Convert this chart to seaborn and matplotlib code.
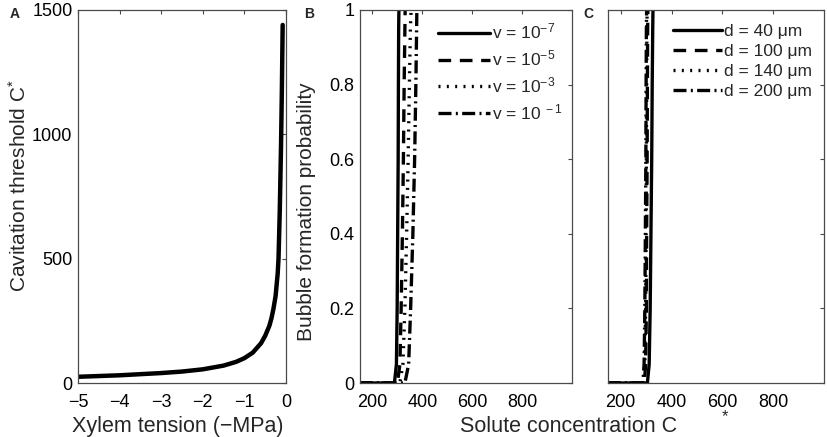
import matplotlib
matplotlib.use("Agg")
import matplotlib.pyplot as plt
import numpy as np
import pandas as pd
import seaborn as sns

# ---------------- data ----------------
tension = [-5, -4, -3, -2.5, -2, -1.5, -1.2, -1.0, -0.8, -0.6, -0.5, -0.4,
           -0.35, -0.3, -0.25, -0.2, -0.18, -0.15, -0.12, -0.1, -0.08]
cstar = [25, 31, 40, 46, 55, 70, 85, 100, 122, 160, 190, 230,
         260, 300, 350, 440, 500, 690, 950, 1170, 1440]

prob_levels = [0, 0, 0.05, 0.2, 0.4, 0.6, 0.8, 0.95, 1.0]

# panel B: diffusivity series
b_labels = ["v = 10$^{-7}$", "v = 10$^{-5}$", "v = 10$^{-3}$", "v = 10$^{\\ -1}$"]
b_v7 = [150, 288, 296, 299, 301, 303, 304, 305, 306]
b_v5 = [150, 300, 310, 315, 320, 324, 327, 330, 331]
b_v3 = [150, 310, 322, 330, 337, 343, 348, 352, 355]
b_v1 = [150, 330, 345, 353, 362, 369, 374, 377, 378]

# panel C: diameter series
c_labels = ["d = 40 μm", "d = 100 μm", "d = 140 μm", "d = 200 μm"]
c_d40 = [150, 305, 312, 316, 319, 322, 324, 326, 327]
c_d100 = [150, 293, 298, 301, 302, 304, 305, 306, 307]
c_d140 = [150, 290, 295, 298, 300, 301, 302, 303, 304]
c_d200 = [150, 287, 292, 295, 297, 299, 300, 301, 302]

a_xticks = [-5, -4, -3, -2, -1, 0]
a_yticks = [0, 500, 1000, 1500]
bc_xticks = [200, 400, 600, 800]
bc_yticks = [0, 0.2, 0.4, 0.6, 0.8, 1.0]
bc_yticklabels = ["0", "0.2", "0.4", "0.6", "0.8", "1"]

# ---------------- style ----------------
sns.set_theme(style="white")
plt.rcParams["font.family"] = ["Liberation Sans", "DejaVu Sans"]
plt.rcParams["mathtext.fontset"] = "custom"
plt.rcParams["mathtext.rm"] = "Liberation Sans"
plt.rcParams["mathtext.it"] = "Liberation Sans:italic"
plt.rcParams["mathtext.bf"] = "Liberation Sans:bold"
plt.rcParams["axes.unicode_minus"] = True

styles = ["-", (0, (3.8, 2.6)), (0, (0.6, 1.9)), (0, (3.9, 1.3, 0.6, 1.3))]
spine_col = "#4a4a4a"

fig = plt.figure(figsize=(8.27, 4.37), dpi=100)
W, H = 827, 437
axA = fig.add_axes([78 / W, 54 / H, 208 / W, 373 / H])
axB = fig.add_axes([360 / W, 54 / H, 212 / W, 373 / H])
axC = fig.add_axes([608 / W, 54 / H, 216 / W, 373 / H])


def style_axes(ax):
    for s in ax.spines.values():
        s.set_visible(True)
        s.set_color(spine_col)
        s.set_linewidth(0.9)
    ax.tick_params(axis="both", direction="in", top=True, right=True,
                   length=3, width=0.8, color=spine_col, labelsize=13,
                   labelcolor="black")
    ax.tick_params(axis="x", pad=8)
    ax.tick_params(axis="y", pad=4)
    ax.grid(False)


# ---------------- panel A ----------------
sns.lineplot(x=tension, y=cstar, ax=axA, color="black", lw=3.2,
             sort=False, estimator=None)
axA.set_xlim(-5, 0)
axA.set_ylim(0, 1500)
axA.set_xticks(a_xticks)
axA.set_yticks(a_yticks)
style_axes(axA)
axA.set_xlabel("Xylem tension (−MPa)", fontsize=15.5)
axA.xaxis.label.set_va("baseline")
axA.xaxis.set_label_coords(0.48, -(432 - 383) / 373)
axA.set_ylabel("Cavitation threshold C$^{*}$", fontsize=15)
axA.yaxis.set_label_coords((29.5 - 78) / 208, 0.53)

# ---------------- panel B ----------------
for xs, lab, ls in zip([b_v7, b_v5, b_v3, b_v1], b_labels, styles):
    sns.lineplot(x=xs, y=prob_levels, ax=axB, color="black", lw=2.4,
                 sort=False, estimator=None, label=lab, linestyle=ls)
axB.set_xlim(150, 1000)
axB.set_ylim(0, 1)
axB.set_xticks(bc_xticks)
axB.set_yticks(bc_yticks)
axB.set_yticklabels(bc_yticklabels)
style_axes(axB)
axB.set_xlabel("")
axB.set_ylabel("Bubble formation probability", fontsize=15)
axB.yaxis.set_label_coords((315.5 - 360) / 212, 0.46)
axB.legend(loc="upper left", bbox_to_anchor=((438 - 360) / 212, 0.968),
           frameon=False, fontsize=12.5, handlelength=3.0, handletextpad=0.1,
           labelspacing=0.4, borderaxespad=0, borderpad=0)

# ---------------- panel C ----------------
for xs, lab, ls in zip([c_d40, c_d100, c_d140, c_d200], c_labels, styles):
    sns.lineplot(x=xs, y=prob_levels, ax=axC, color="black", lw=2.4,
                 sort=False, estimator=None, label=lab, linestyle=ls)
axC.set_xlim(150, 1000)
axC.set_ylim(0, 1)
axC.set_xticks(bc_xticks)
axC.set_yticks(bc_yticks)
axC.set_yticklabels([])
style_axes(axC)
axC.set_xlabel("")
axC.set_ylabel("")
axC.legend(loc="upper left", bbox_to_anchor=((673 - 608) / 216, 0.962),
           frameon=False, fontsize=12.5, handlelength=2.85, handletextpad=0.1,
           labelspacing=0.28, borderaxespad=0, borderpad=0)

# shared x label and the stray asterisk
fig.text(569 / W, (437 - 432) / H, "Solute concentration C", fontsize=15.5,
         ha="center", va="baseline")
fig.text(725 / W, (437 - 417) / H, "*", fontsize=12, ha="center", va="center")

# panel letters
for x, letter in [(10, "A"), (304, "B"), (583, "C")]:
    fig.text(x / W, (437 - 18) / H, letter, fontsize=10, fontweight="bold",
             ha="left", va="baseline")

fig.savefig("out.png", dpi=100)
